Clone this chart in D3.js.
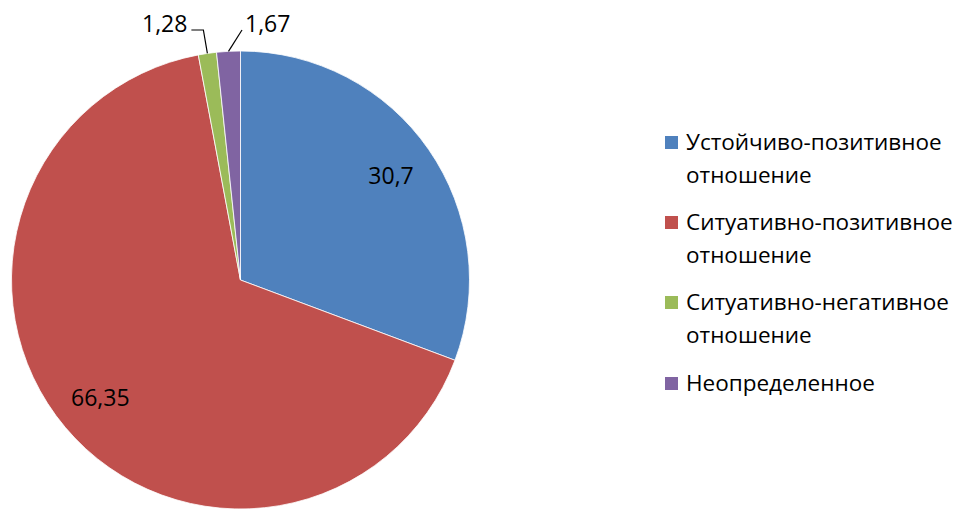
<!DOCTYPE html>
<html lang="ru">
	<head>
		<meta charset="utf-8">
		<title>Отношение</title>
		<script type="text/javascript" src="https://cdn.jsdelivr.net/npm/d3@7"></script>
		<style type="text/css">
			body {
				margin: 0;
				background: white;
			}
			text {
				font-family: "Open Sans", sans-serif;
				fill: #000;
			}
		</style>
	</head>
	<body>
		<script type="text/javascript">

			var categories = ["Устойчиво-позитивное отношение", "Ситуативно-позитивное отношение",
							  "Ситуативно-негативное отношение", "Неопределенное"];
			var values = [30.7, 66.35, 1.28, 1.67];
			var valueLabels = ["30,7", "66,35", "1,28", "1,67"];
			var legendLines = [["Устойчиво-позитивное", "отношение"],
							   ["Ситуативно-позитивное", "отношение"],
							   ["Ситуативно-негативное", "отношение"],
							   ["Неопределенное"]];
			var colors = ["#4F81BD", "#C0504D", "#9BBB59", "#8064A2"];

			//Width and height
			var w = 963;
			var h = 509;
			var cx = 240.5;
			var cy = 280;
			var r = 229;

			var svg = d3.select("body")
						.append("svg")
						.attr("width", w)
						.attr("height", h);

			var pie = d3.pie().sort(null).value(function(d) { return d; });
			var arcs = pie(values);

			var arc = d3.arc().innerRadius(0).outerRadius(r);
			var labelArc = d3.arc().innerRadius(r * 0.6).outerRadius(r);

			var g = svg.append("g")
					   .attr("transform", "translate(" + cx + "," + cy + ")");

			g.selectAll("path")
			 .data(arcs)
			 .enter()
			 .append("path")
			 .attr("d", arc)
			 .attr("fill", function(d, i) { return colors[i]; })
			 .attr("stroke", "white")
			 .attr("stroke-width", 0.8);

			//Inside labels for the big slices
			g.selectAll("text.inside")
			 .data(arcs.slice(0, 2))
			 .enter()
			 .append("text")
			 .attr("class", "inside")
			 .attr("text-anchor", "middle")
			 .attr("font-size", "23px")
			 .attr("x", function(d) { return labelArc.centroid(d)[0]; })
			 .attr("y", function(d) { return labelArc.centroid(d)[1] + 8; })
			 .text(function(d, i) { return valueLabels[i]; });

			//Outside labels with leader lines for the small slices
			var outside = [
				{ i: 2, elbow: [-4, 30], end: [-16, 30], anchor: "end" },
				{ i: 3, elbow: [242 - cx, 30], end: null, anchor: "start" }
			];
			outside.forEach(function(o) {
				var d = arcs[o.i];
				var mid = (d.startAngle + d.endAngle) / 2;
				var p = [Math.sin(mid) * r, -Math.cos(mid) * r];
				var ey = o.elbow[1] - cy;
				var pts;
				if (o.end) {
					var ex = p[0] + o.elbow[0];
					pts = [p, [ex, ey], [p[0] + o.end[0], ey]];
				} else {
					pts = [p, [o.elbow[0], ey]];
				}
				g.append("path")
				 .attr("d", d3.line()(pts))
				 .attr("fill", "none")
				 .attr("stroke", "#000")
				 .attr("stroke-width", 1.2);
				var last = pts[pts.length - 1];
				g.append("text")
				 .attr("text-anchor", o.anchor)
				 .attr("font-size", "23px")
				 .attr("x", last[0] + (o.anchor === "end" ? -4 : 3))
				 .attr("y", last[1] + 2)
				 .text(valueLabels[o.i]);
			});

			//Legend
			var legendY = [142, 222, 302, 383];
			var legend = svg.append("g");
			var items = legend.selectAll("g")
							  .data(categories)
							  .enter()
							  .append("g")
							  .attr("transform", function(d, i) { return "translate(665," + legendY[i] + ")"; });

			items.append("rect")
				 .attr("x", 0)
				 .attr("y", -6)
				 .attr("width", 13)
				 .attr("height", 13)
				 .attr("fill", function(d, i) { return colors[i]; });

			items.each(function(d, i) {
				var t = d3.select(this).append("text")
							.attr("x", 21)
							.attr("y", 8)
							.attr("font-size", "22.5px");
				legendLines[i].forEach(function(line, j) {
					t.append("tspan")
					 .attr("x", 21)
					 .attr("dy", j === 0 ? 0 : 33)
					 .text(line);
				});
			});

		</script>
	</body>
</html>
